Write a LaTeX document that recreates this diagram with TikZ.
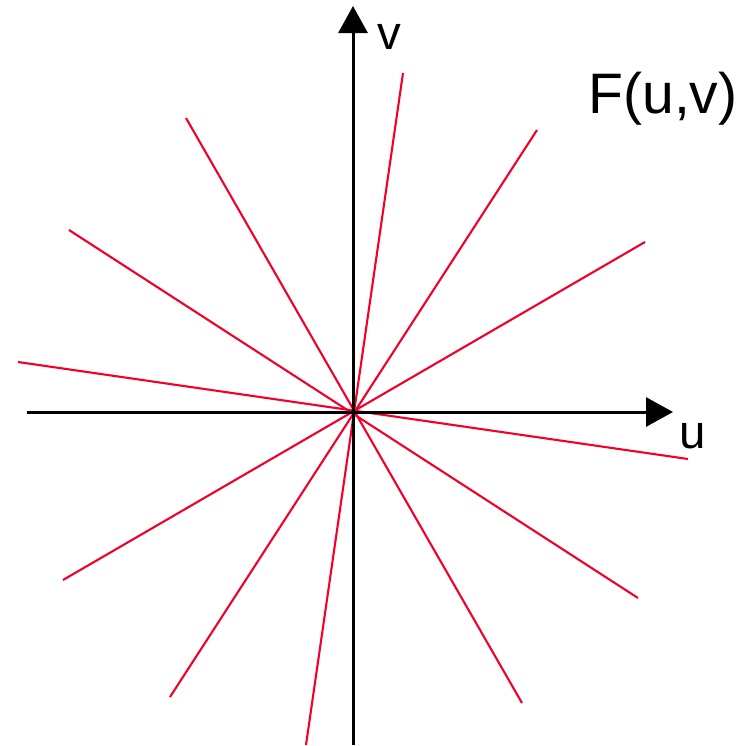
\documentclass[tikz,border=0pt]{standalone}
\usepackage{fontspec}
\setmainfont{Liberation Sans}
\usetikzlibrary{arrows.meta,positioning,calc}
\definecolor{rayRed}{RGB}{242, 0, 42}
\definecolor{axisBlack}{RGB}{0, 0, 0}

\begin{document}
\begin{tikzpicture}[x=0.02cm, y=-0.02cm,
    axisline/.style={draw=axisBlack, line width=0.06cm, -{Triangle[length=0.54cm, width=0.58cm]}},
    rayline/.style={draw=rayRed, line width=0.042cm},
    axislabel/.style={inner sep=0pt, anchor=base, font=\fontsize{27pt}{30pt}\selectfont}]
    \useasboundingbox (0,0) rectangle (755,745);
    % ray end points
    \coordinate (r1a) at (403,73);  \coordinate (r1b) at (306,745);
    \coordinate (r2a) at (537,130); \coordinate (r2b) at (170,697);
    \coordinate (r3a) at (645,242); \coordinate (r3b) at (63,580);
    \coordinate (r4a) at (18,362);  \coordinate (r4b) at (688,459);
    \coordinate (r5a) at (69,230);  \coordinate (r5b) at (638,598);
    \coordinate (r6a) at (186,118); \coordinate (r6b) at (522,703);
    \foreach \r in {1,...,6}
        \draw[rayline] (r\r a) -- (r\r b);
    % axes
    \coordinate (uStart) at (27,412);  \coordinate (uTip) at (673,412);
    \coordinate (vStart) at (353,745); \coordinate (vTip) at (353,6);
    \draw[axisline] (uStart) -- (uTip);
    \draw[axisline] (vStart) -- (vTip);
    \node[axislabel] (uLabel) at (693,448) {u};
    \node[axislabel] (vLabel) at (389,49) {v};
    \node[inner sep=0pt, anchor=base west, font=\fontsize{32.5pt}{36pt}\selectfont] (fLabel) at (588,113) {F(u,v)};
\end{tikzpicture}
\end{document}
